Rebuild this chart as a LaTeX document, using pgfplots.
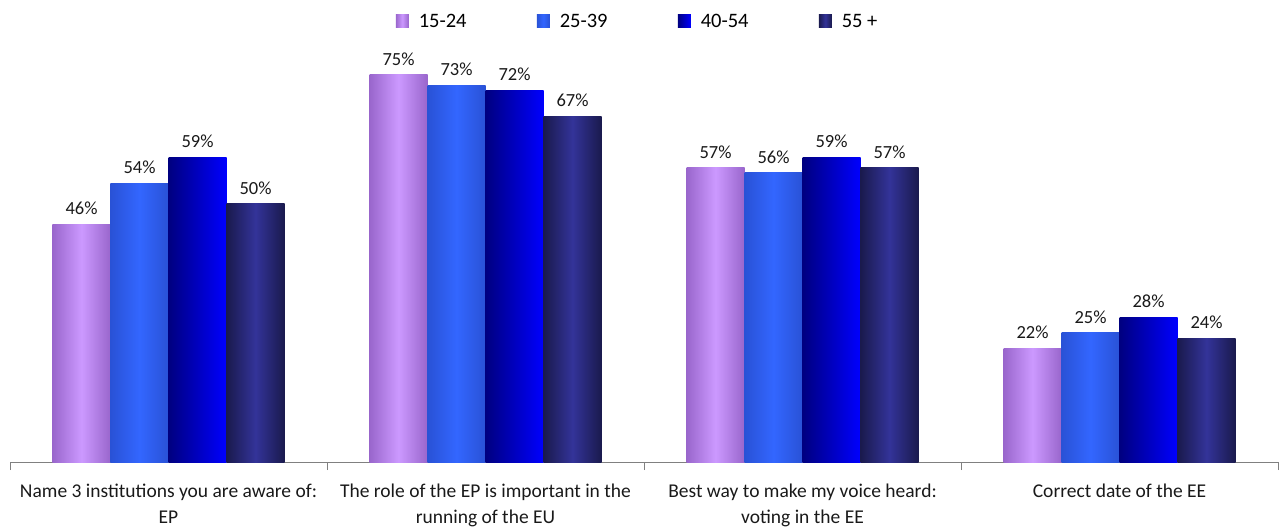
\documentclass[border=0pt]{standalone}
\usepackage{pgfplots}
\pgfplotsset{compat=1.18}
\usepackage{fontspec}
\setmainfont{Carlito}
\definecolor{pA}{HTML}{9966CC}
\definecolor{pB}{HTML}{CC99FF}
\definecolor{bA}{HTML}{2952D6}
\definecolor{bB}{HTML}{3366FF}
\definecolor{nA}{HTML}{000080}
\definecolor{nB}{HTML}{0000FF}
\definecolor{dA}{HTML}{1A1A4D}
\definecolor{dB}{HTML}{333399}
\definecolor{axgray}{HTML}{808080}
\pgfplotsset{
  sA/.style={draw=none, bar shift=-87pt, left color=pA, right color=pA, middle color=pB},
  sB/.style={draw=none, bar shift=-29pt, left color=bA, right color=bA, middle color=bB},
  sC/.style={draw=none, bar shift=29pt, left color=nA, right color=nB},
  sD/.style={draw=none, bar shift=87pt, left color=dA, right color=dA, middle color=dB},
}
\begin{document}
\begin{tikzpicture}
\begin{axis}[
  name=ax,
  scale only axis,
  width=1268pt, height=413pt,
  ybar=0pt, bar width=58pt,
  xmin=-0.5, xmax=3.5, ymin=0, ymax=80,
  axis y line=none,
  axis x line*=bottom,
  axis line style={axgray, line width=1pt},
  xtick={0,1,2,3},
  xticklabels={{Name 3 institutions you are aware of:\\EP},
               {The role of the EP is important in the\\running of the EU},
               {Best way to make my voice heard:\\voting in the EE},
               {Correct date of the EE}},
  major tick length=0pt,
  minor xtick={-0.5,0.5,1.5,2.5,3.5},
  minor tick length=8pt,
  tick align=outside,
  minor tick style={axgray, line width=1pt},
  xticklabel style={align=center, font=\fontsize{19.5}{26}\selectfont, text=black!90, anchor=north, yshift=-18pt},
  clip=false,
  /pgf/number format/assume math mode=true,
  nodes near coords={\pgfmathprintnumber{\pgfplotspointmeta}\%},
  every node near coord/.append style={font=\fontsize{18.5}{20}\selectfont, text=black!90, yshift=6pt},
  legend columns=4,
  legend style={draw=none, fill=none, at={(rel axis cs:0.3017,1.095)}, anchor=north west,
    font=\fontsize{20.5}{24}\selectfont, /tikz/every even column/.append style={column sep=0pt}},
  legend image code/.code={\path[#1] (0pt,-6.5pt) rectangle (13pt,6.5pt);},
]
\addplot[sA] coordinates {(0,46)};
\addplot[sB] coordinates {(0,54)};
\addplot[sC] coordinates {(0,59)};
\addplot[sD] coordinates {(0,50)};
\addplot[sA, forget plot] coordinates {(1,75)};
\addplot[sB, forget plot] coordinates {(1,73)};
\addplot[sC, forget plot] coordinates {(1,72)};
\addplot[sD, forget plot] coordinates {(1,67)};
\addplot[sA, forget plot] coordinates {(2,57)};
\addplot[sB, forget plot] coordinates {(2,56)};
\addplot[sC, forget plot] coordinates {(2,59)};
\addplot[sD, forget plot] coordinates {(2,57)};
\addplot[sA, forget plot] coordinates {(3,22)};
\addplot[sB, forget plot] coordinates {(3,25)};
\addplot[sC, forget plot] coordinates {(3,28)};
\addplot[sD, forget plot] coordinates {(3,24)};
\legend{\makebox[124pt][l]{\hspace{8pt}15-24},\makebox[124pt][l]{\hspace{8pt}25-39},\makebox[124pt][l]{\hspace{8pt}40-54},\makebox[60pt][l]{\hspace{8pt}55 +}}
\end{axis}
\pgfresetboundingbox
\path ([xshift=-10pt,yshift=-66pt]ax.south west) rectangle ([xshift=7pt,yshift=49pt]ax.north east);
\end{tikzpicture}
\end{document}
